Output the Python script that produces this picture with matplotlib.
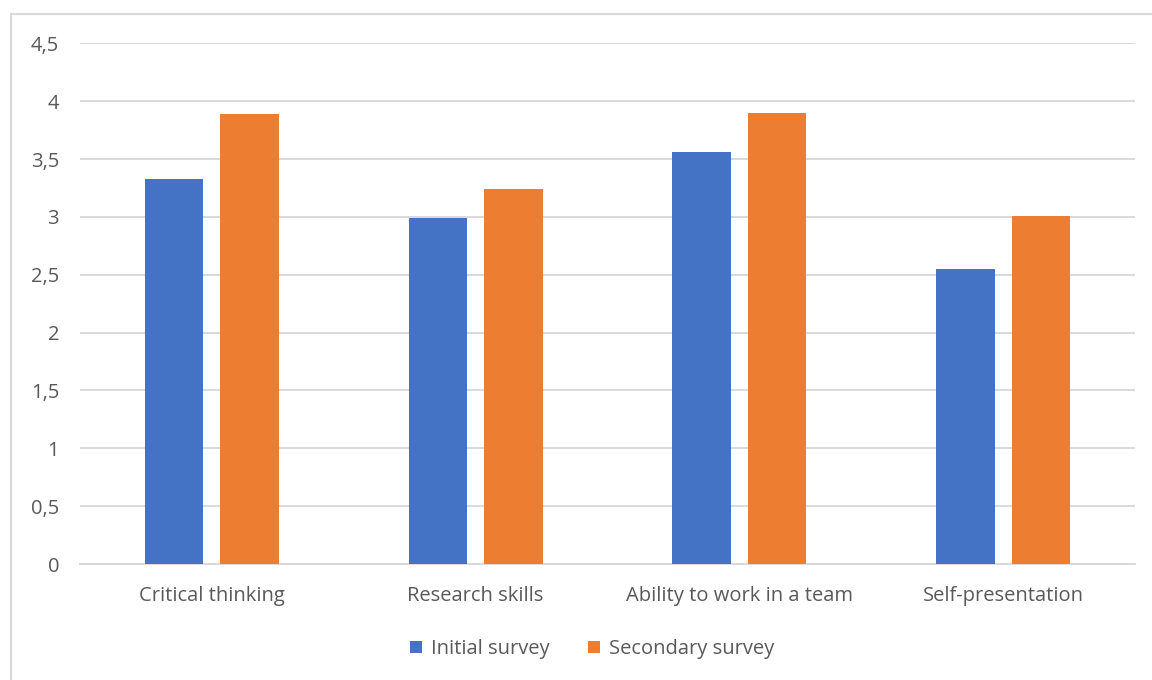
import matplotlib
matplotlib.use("Agg")
import matplotlib.pyplot as plt
import matplotlib.patches as mpatches
import numpy as np

categories = ["Critical thinking", "Research skills", "Ability to work in a team", "Self-presentation"]
initial_survey = [3.33, 2.99, 3.56, 2.55]
secondary_survey = [3.89, 3.24, 3.90, 3.01]
series_names = ["Initial survey", "Secondary survey"]
y_ticks = [0, 0.5, 1, 1.5, 2, 2.5, 3, 3.5, 4, 4.5]

BLUE = "#4472C4"
ORANGE = "#ED7D31"
GRID = "#D9D9D9"
TEXT = "#595959"

plt.rcParams["font.family"] = ["Open Sans", "DejaVu Sans"]

fig = plt.figure(figsize=(11.52, 6.8), dpi=100)
ax = fig.add_axes([80 / 1152, 1 - 564 / 680, (1135 - 80) / 1152, (564 - 43.3) / 680])

# outer chart frame (Excel style)
fig.patches.append(mpatches.Rectangle(
    (11 / 1152, -0.05), 1.1, 1 - 14 / 680 + 0.05,
    transform=fig.transFigure, fill=False, edgecolor=GRID, linewidth=1.5,
))

x = np.arange(len(categories))
w = 0.222
off = 0.143
ax.bar(x - off, initial_survey, w, color=BLUE, label=series_names[0], zorder=3)
ax.bar(x + off, secondary_survey, w, color=ORANGE, label=series_names[1], zorder=3)

ax.set_xlim(-0.5, len(categories) - 0.5)
ax.set_ylim(0, 4.5)
ax.set_yticks(y_ticks)
ax.set_yticklabels([f"{t:g}".replace(".", ",") for t in y_ticks])
ax.set_xticks(x)
ax.set_xticklabels(categories)

ax.grid(axis="y", color=GRID, linewidth=1.4, zorder=0)
ax.set_axisbelow(True)
for s in ["top", "right", "left"]:
    ax.spines[s].set_visible(False)
ax.spines["bottom"].set_color(GRID)
ax.spines["bottom"].set_linewidth(1.4)
ax.tick_params(axis="both", length=0, labelsize=14.5, labelcolor=TEXT)
ax.tick_params(axis="y", pad=15)
ax.tick_params(axis="x", pad=16)

fig.legend(
    loc="center", bbox_to_anchor=(592 / 1152, 1 - 649 / 680),
    ncol=2, frameon=False, fontsize=14.5, labelcolor=TEXT,
    handlelength=0.6, handleheight=0.6, handletextpad=0.45, columnspacing=1.9,
)

fig.savefig("out.png", dpi=100)
